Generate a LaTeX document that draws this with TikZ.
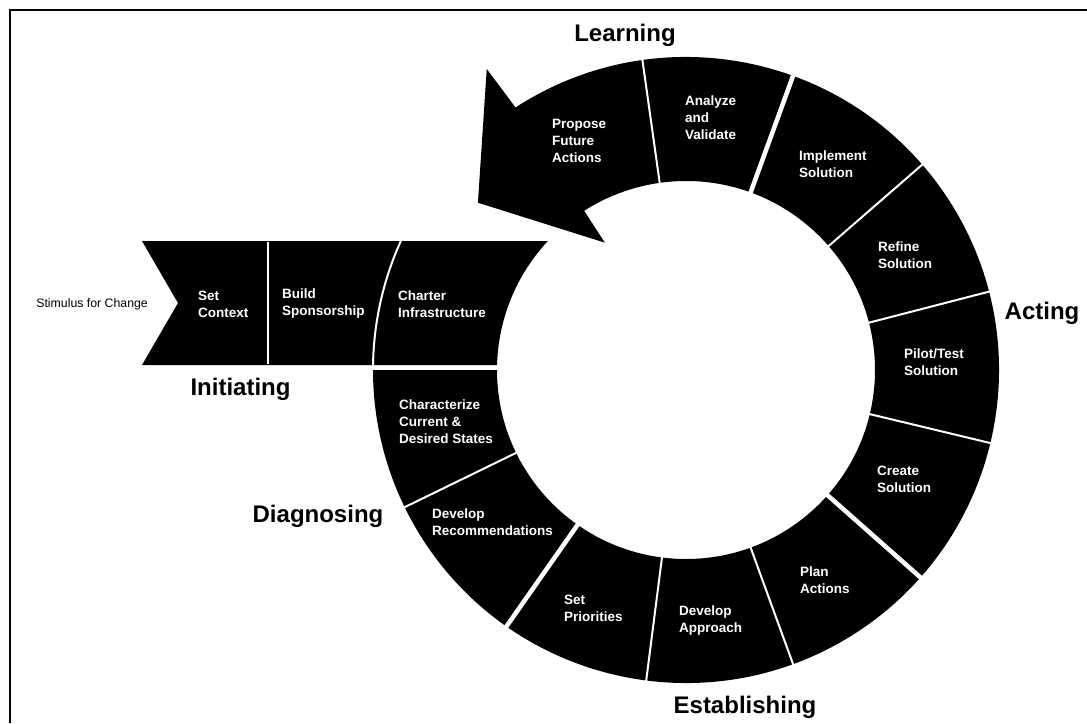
\documentclass[tikz,border=0pt]{standalone}
\usepackage{fontspec}
\setmainfont{Liberation Sans}
\usepackage{tikz}

\begin{document}
\begin{tikzpicture}[
	seg/.style={text=white,align=left,anchor=west,inner sep=0,font=\fontsize{13.5}{17}\selectfont\bfseries},
	phase/.style={anchor=base,inner sep=0,font=\fontsize{24}{28}\selectfont\bfseries},
	thin cut/.style={white,line width=2pt},
	thick cut/.style={white,line width=4.5pt}]
	\begin{scope}[x=1pt,y=1pt]
		\useasboundingbox (-686,-353) rectangle (401,370);
		\draw [line width=2.5pt] (-676,-353) -- (-676,360) -- (401,360);
		\fill (122.6:189) -- (122.5:151) -- (141.2:267) -- (123.5:361) -- (123:313) arc [start angle=123,end angle=-180,radius=313] -- (-180:189) arc [start angle=-180,end angle=122.6,radius=189] -- cycle;
		\fill (-544,129) -- (137:189) arc [start angle=137,end angle=178.5,radius=189] -- (-544,5) -- (-508,67) -- cycle;
		\draw [thin cut] (-418,128) -- (-418,6);
		\draw [thin cut] (155.66:313) arc [start angle=155.66,end angle=179.08,radius=313];
		\draw [thin cut] (98:187) -- (98:315);
		\draw [thick cut] (70:187) -- (70:315);
		\draw [thin cut] (41:187) -- (41:315);
		\draw [thin cut] (14.5:187) -- (14.5:315);
		\draw [thin cut] (-13.5:187) -- (-13.5:315);
		\draw [thick cut] (-41.5:187) -- (-41.5:315);
		\draw [thin cut] (-70:187) -- (-70:315);
		\draw [thin cut] (-97.3:187) -- (-97.3:315);
		\draw [thick cut] (235:187) -- (235:315);
		\draw [thin cut] (206:187) -- (206:315);
		\node [phase] (Learning) at (-61,328) {Learning};
		\node [phase] (Acting) at (356,51) {Acting};
		\node [phase] (Initiating) at (-445.5,-25) {Initiating};
		\node [phase] (Diagnosing) at (-368,-152) {Diagnosing};
		\node [phase] (Establishing) at (59,-343) {Establishing};
		\node [anchor=east,inner sep=0,font=\fontsize{12.3}{14}\selectfont] (Stimulus) at (-538,66) {Stimulus for Change};
		\node [seg] (SetContext) at (-488,66) {Set\\Context};
		\node [seg] (BuildSponsorship) at (-404,66) {Build\\Sponsorship};
		\node [seg] (CharterInfra) at (-288,66) {Charter\\Infrastructure};
		\node [seg] (Characterize) at (-287,-52) {Characterize\\Current \&\\Desired States};
		\node [seg] (DevelopRec) at (-254,-152) {Develop\\Recommendations};
		\node [seg] (SetPriorities) at (-122,-238) {Set\\Priorities};
		\node [seg] (DevelopApproach) at (-7,-251) {Develop\\Approach};
		\node [seg] (PlanActions) at (114,-210) {Plan\\Actions};
		\node [seg] (CreateSolution) at (191,-109) {Create\\Solution};
		\node [seg] (PilotTest) at (218,8) {Pilot/Test\\Solution};
		\node [seg] (RefineSolution) at (192,115) {Refine\\Solution};
		\node [seg] (ImplementSolution) at (113,206) {Implement\\Solution};
		\node [seg] (AnalyzeValidate) at (-1,252) {Analyze\\and\\Validate};
		\node [seg] (ProposeActions) at (-134,229) {Propose\\Future\\Actions};
	\end{scope}
\end{tikzpicture}
\end{document}
